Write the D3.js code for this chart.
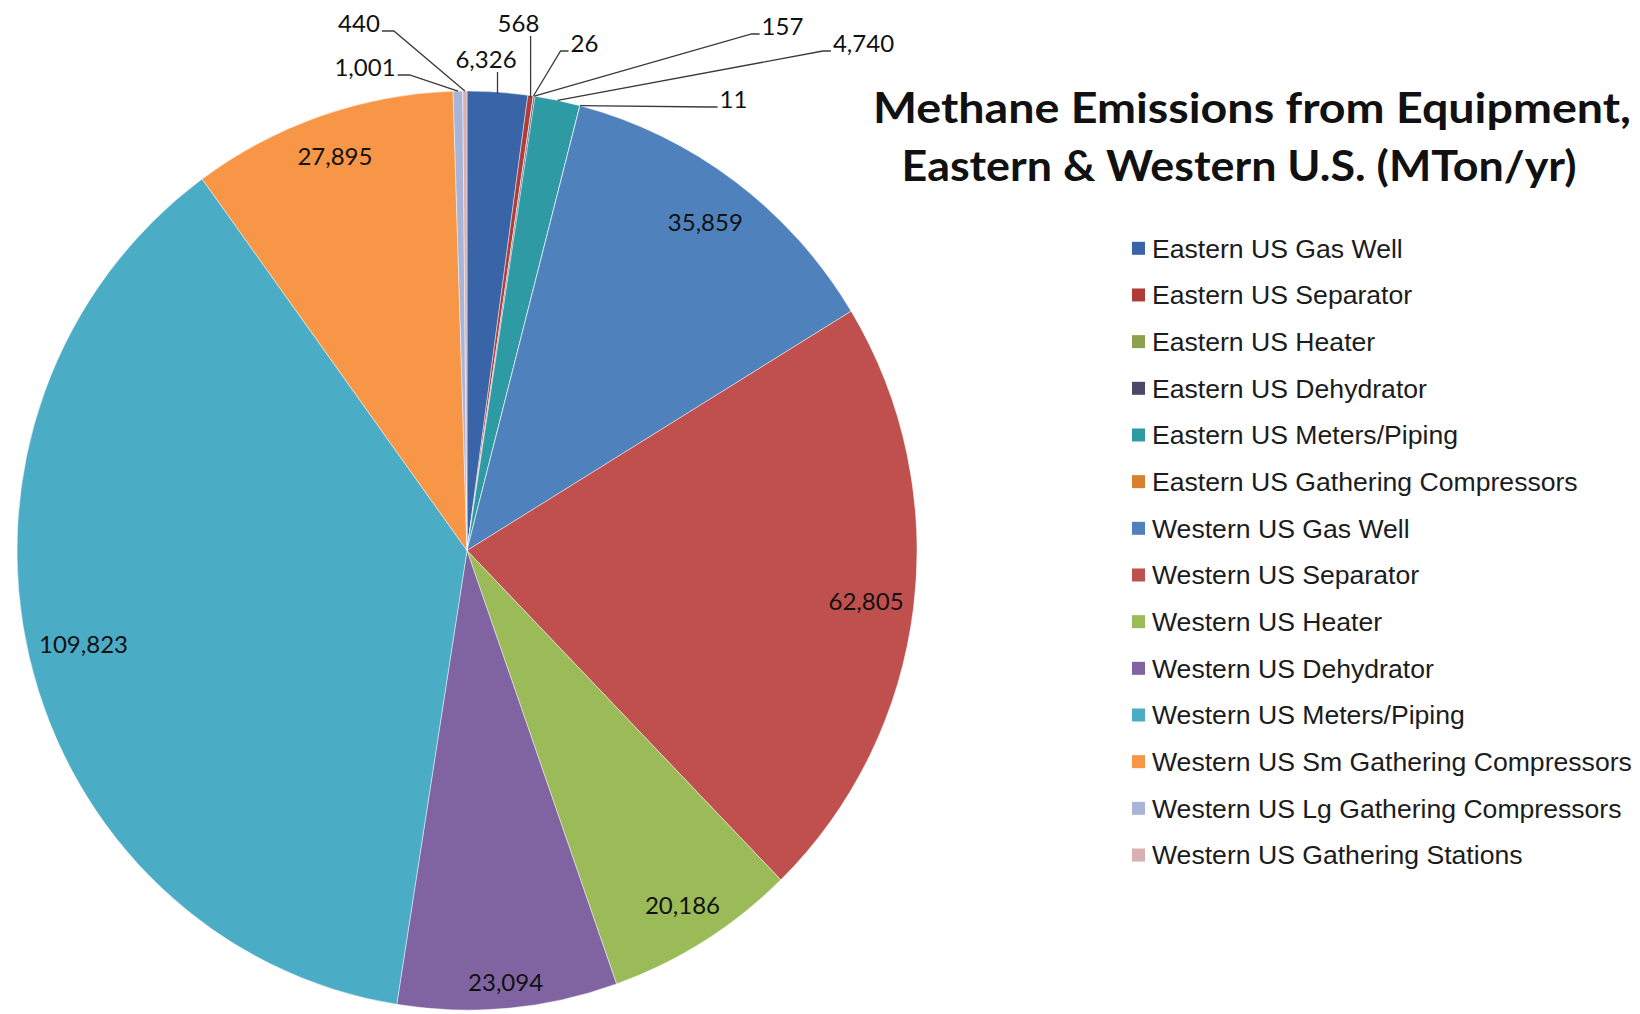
<!DOCTYPE html>
<html>
<head>
<meta charset="utf-8">
<script src="https://cdn.jsdelivr.net/npm/d3@7"></script>
<style>
  html, body { margin: 0; padding: 0; background: #ffffff; }
  svg { display: block; }
</style>
</head>
<body>
<svg id="chart" width="1640" height="1014"></svg>
<script>
// ---------- DATA ----------
const categories = [
  "Eastern US Gas Well",
  "Eastern US Separator",
  "Eastern US Heater",
  "Eastern US Dehydrator",
  "Eastern US Meters/Piping",
  "Eastern US Gathering Compressors",
  "Western US Gas Well",
  "Western US Separator",
  "Western US Heater",
  "Western US Dehydrator",
  "Western US Meters/Piping",
  "Western US Sm Gathering Compressors",
  "Western US Lg Gathering Compressors",
  "Western US Gathering Stations"
];
const values = [6326, 568, 26, 157, 4740, 11, 35859, 62805, 20186, 23094, 109823, 27895, 1001, 440];
const sliceColors = [
  "#3964a8", "#b03c3a", "#8fa04c", "#4b4869", "#2e9aa3", "#d9802f",
  "#4f81bd", "#c0504d", "#9bbb59", "#8064a2", "#4bacc6", "#f79646",
  "#a9b5d8", "#d9b0b2"
];
const titleLines = ["Methane Emissions from Equipment,", "Eastern & Western U.S. (MTon/yr)"];

// ---------- LAYOUT (not data) ----------
const cx = 467, cy = 550.5, rx = 450, ry = 459.5;
// call-out label anchors (text centre x, baseline y) for the small slices
const calloutLayout = {
  "Eastern US Gas Well": [486, 68],
  "Eastern US Separator": [518.5, 32],
  "Eastern US Heater": [584.5, 52],
  "Eastern US Dehydrator": [782.5, 35],
  "Eastern US Meters/Piping": [863.5, 52],
  "Eastern US Gathering Compressors": [733.5, 108],
  "Western US Lg Gathering Compressors": [365, 76],
  "Western US Gathering Stations": [359, 32]
};

const svg = d3.select("#chart");
const fmt = d3.format(",");
const total = d3.sum(values);
const color = d3.scaleOrdinal().domain(categories).range(sliceColors);

const data = categories.map((c, i) => ({ name: c, value: values[i] }));
const pie = d3.pie().value(d => d.value).sort(null).startAngle(0).endAngle(2 * Math.PI);
const arcs = pie(data);
const arc = d3.arc().innerRadius(0).outerRadius(rx);

// pie (slightly taller than wide, as in the reference)
const pg = svg.append("g").attr("transform", `translate(${cx},${cy}) scale(1,${ry / rx})`);
pg.selectAll("path").data(arcs).join("path")
  .attr("d", arc)
  .attr("fill", d => color(d.data.name))
  .attr("stroke", "#ffffff")
  .attr("stroke-opacity", 0.55)
  .attr("stroke-width", 0.8);

function pt(a, t) { return [cx + t * rx * Math.sin(a), cy - t * ry * Math.cos(a)]; }

const labelFont = "Lato, 'Open Sans', sans-serif";
const labelSize = 24;
const digitH = 17;

const lg = svg.append("g");
arcs.forEach(d => {
  const frac = d.data.value / total;
  const mid = (d.startAngle + d.endAngle) / 2;
  const txt = fmt(d.data.value);
  if (frac > 0.05) {
    const t = lg.append("text").text(txt)
      .attr("font-family", labelFont).attr("font-size", labelSize)
      .attr("fill", "#111111").attr("text-anchor", "middle");
    const w = t.node().getComputedTextLength();
    const sx = Math.sin(mid) >= 0 ? 1 : -1;
    const sy = -Math.cos(mid) >= 0 ? 1 : -1;
    const offX = sx * (w / 2 + 8);
    const offY = sy > 0 ? (digitH / 2 + 11) : -(digitH / 2 + 20);
    let lo = 0, hi = 1;
    for (let k = 0; k < 40; k++) {
      const m = (lo + hi) / 2;
      const [px, py] = pt(mid, m);
      const qx = (px + offX - cx) / rx, qy = (py + offY - cy) / ry;
      if (Math.sqrt(qx * qx + qy * qy) > 1) hi = m; else lo = m;
    }
    const [px, py] = pt(mid, lo);
    t.attr("x", px).attr("y", py + digitH / 2);
  } else {
    const pos = calloutLayout[d.data.name];
    if (!pos) return;
    const t = lg.append("text").text(txt)
      .attr("font-family", labelFont).attr("font-size", labelSize)
      .attr("fill", "#111111").attr("text-anchor", "middle")
      .attr("x", pos[0]).attr("y", pos[1]);
    const w = t.node().getComputedTextLength();
    const x0 = pos[0] - w / 2, x1 = pos[0] + w / 2;
    const [ex, ey] = pt(mid, 1);
    let pts;
    const by = pos[1] - 1;
    if (ex >= x0 && ex <= x1) {
      pts = [[ex, pos[1] + 4], [ex, ey + 2]];
    } else if (ex > x1) {
      pts = [[x1 + 2, by], [x1 + 14, by], [ex, ey]];
    } else {
      pts = [[x0 - 2, by], [x0 - 10, by], [ex, ey]];
    }
    lg.append("path")
      .attr("d", d3.line()(pts))
      .attr("fill", "none")
      .attr("stroke", "#3a3a3a")
      .attr("stroke-width", 1.3);
  }
});

// ---------- TITLE ----------
const titleCenters = [[1252, 123], [1239, 181]];
const titleWidths = [758, 675];
titleLines.forEach((s, i) => {
  const t = svg.append("text").text(s)
    .attr("x", titleCenters[i][0]).attr("y", titleCenters[i][1])
    .attr("text-anchor", "middle")
    .attr("font-family", "Lato, 'Open Sans', sans-serif")
    .attr("font-weight", "bold")
    .attr("font-size", 42)
    .attr("fill", "#111111");
  const w = t.node().getComputedTextLength();
  if (Math.abs(w - titleWidths[i]) > 4) {
    t.attr("textLength", titleWidths[i]).attr("lengthAdjust", "spacingAndGlyphs");
  }
});

// ---------- LEGEND ----------
const legY = d3.scalePoint().domain(categories).range([248.3, 248.3 + 13 * 46.67]);
const leg = svg.append("g");
categories.forEach(c => {
  const y = legY(c);
  leg.append("rect")
    .attr("x", 1132).attr("y", y - 6.5).attr("width", 13).attr("height", 13)
    .attr("fill", color(c));
  leg.append("text").text(c)
    .attr("x", 1152).attr("y", y + 9.3)
    .attr("font-family", "'Liberation Sans', Arial, sans-serif")
    .attr("font-size", 26.6)
    .attr("fill", "#1c1c1c");
});
</script>
</body>
</html>
